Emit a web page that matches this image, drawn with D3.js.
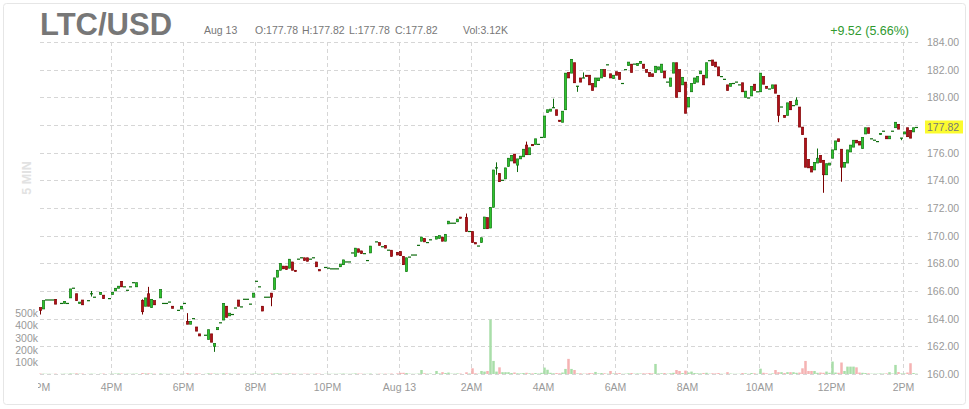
<!DOCTYPE html>
<html lang="en">
<head>
  <meta charset="UTF-8">
  <style>
    body {
      margin: 0;
      overflow: hidden;
      background: #fff;
    }

    svg {
      display: block;
      font-family: Arial, "Liberation Sans", sans-serif;
    }

    .grid line {
      stroke: #d6d6d6;
      stroke-dasharray: 4, 3;
      shape-rendering: crispEdges;
    }

    .axis path,
    .axis line {
      display: none;
    }

    .axis text {
      fill: #999;
      font-size: 10.5px;
    }
  </style>
  <script src="https://d3js.org/d3.v7.min.js"></script>
</head>
<body>

<svg id="chart"></svg>

<script>
  // 5 minute candles from Aug 12 2PM, [open, close], null = no trade
  const candles = [
    [164.8,164.6],[164.7,165.3],[165.35,165.35],[165.35,165.35],[165.35,165.35],[165.4,165.05],null,[165.1,165.1],[165.1,165.25],[165.1,165.1],[165.5,166.15],[166.2,166.2],
    [165.8,165.3],[165.1,165.2],[165.35,165.0],null,[165.3,165.3],[165.8,165.8],[165.55,165.55],null,[165.75,165.9],[165.7,165.45],null,[165.45,165.45],
    [165.75,165.9],[166.0,166.2],[166.2,166.35],[166.7,166.3],[166.3,166.3],[166.05,166.05],[166.3,166.3],[166.6,166.6],[166.3,166.6],null,[165.3,164.5],[164.9,165.5],
    [165.8,164.9],[164.8,165.4],[165.3,165.0],null,[165.5,166.1],[165.1,165.1],[165.1,165.1],[165.2,165.2],[164.9,164.75],null,[164.6,164.6],[164.7,164.9],
    [165.1,165.1],[163.8,163.6],[163.6,163.8],[164.0,164.0],[163.4,163.1],[162.9,162.75],null,[162.8,162.8],[162.5,163.2],[162.9,162.3],[162.0,162.2],[163.2,163.35],
    [163.7,163.7],[163.9,165.1],[164.9,164.1],[164.2,164.4],[164.3,164.3],[164.77,164.77],[165.35,164.9],[164.85,164.85],[165.4,165.4],[165.4,165.4],[165.05,165.05],[165.55,165.85],
    [166.7,166.7],[166.3,166.3],[164.9,164.55],[165.55,165.55],[165.55,165.55],[165.85,165.55],[166.1,166.95],[167.0,167.5],[167.5,168.0],[167.8,167.6],[167.8,167.55],[167.65,168.3],
    [168.1,167.5],[167.5,167.4],[168.3,168.3],[168.4,168.4],[168.4,168.2],[168.4,168.15],[168.3,168.3],[168.4,168.4],[168.1,167.75],[167.55,167.45],null,[167.7,167.7],
    [167.65,167.65],[167.6,167.6],[167.6,167.6],[167.6,167.6],[167.75,167.95],[167.9,168.25],[168.1,168.1],[168.1,168.1],[168.75,168.75],[168.5,169.1],[169.05,168.8],[168.9,168.7],
    [168.7,168.7],[168.2,168.2],[168.75,169.25],null,[169.55,169.55],[169.5,169.3],[169.2,169.2],[169.3,169.1],[168.95,168.95],[168.95,168.5],null,[168.8,168.6],
    [168.85,168.55],[168.5,167.9],[167.4,168.4],[168.45,168.45],[168.6,168.6],[168.6,168.6],[169.3,169.3],[169.6,169.9],[169.8,169.55],[169.5,169.5],[169.7,169.7],null,
    [169.75,169.95],[169.8,170.0],[169.9,169.6],[169.6,170.1],[170.85,171.05],[170.9,170.9],[170.9,170.9],[171.0,171.2],[171.35,171.25],null,[171.3,170.3],[170.3,170.3],
    [170.3,169.5],[169.5,169.4],[169.25,169.25],[169.5,169.85],[170.5,171.35],[171.3,170.5],[170.55,172.05],[172.05,174.75],[174.9,174.9],[174.5,173.9],[174.0,174.0],[174.1,174.9],
    [175.0,175.6],[175.4,175.8],[175.9,175.25],[175.1,175.55],[175.55,175.75],[175.7,176.25],[176.55,175.85],[175.85,176.35],[176.6,176.5],[176.6,177.0],[176.6,176.6],[177.1,177.1],
    [177.1,178.65],[178.9,179.1],[179.0,179.15],[179.25,179.25],[179.1,178.7],[178.35,178.25],[178.2,179.0],[179.1,181.75],[181.8,181.4],[181.75,182.75],[182.5,181.05],[180.8,180.8],
    [181.4,181.1],[181.4,181.4],[181.6,181.5],[181.6,180.9],[181.0,180.5],[180.75,181.4],[181.2,181.4],[181.4,182.0],[182.0,181.5],[182.35,182.35],[181.7,181.4],[181.35,181.6],
    [181.85,181.6],[181.8,181.3],[181.0,181.0],[182.0,182.0],[182.3,182.55],[182.4,181.8],[182.4,182.4],[182.3,182.45],[182.45,182.6],[182.4,182.1],[182.0,181.8],[181.8,181.5],
    [181.7,181.5],[181.8,182.25],[182.0,182.2],[181.8,182.4],[181.9,181.4],[181.1,181.1],[180.8,181.4],[181.75,182.5],[182.5,180.0],[182.0,180.4],[180.9,181.45],[181.1,178.85],
    [179.3,180.0],[180.4,181.0],[181.0,181.4],[181.1,181.5],[181.7,181.9],[181.6,180.9],[181.4,182.5],[182.65,182.65],[182.7,182.3],[182.55,182.2],[182.2,181.55],[181.5,181.5],
    [181.3,181.3],[180.9,180.5],[180.8,181.0],[181.0,181.0],[181.1,181.1],[180.9,180.9],[181.05,180.4],[180.0,180.45],[179.95,179.95],[180.1,180.8],[180.95,180.5],[180.4,180.4],
    [180.4,181.75],[181.5,180.95],[180.8,180.65],[180.6,180.6],[180.65,180.9],[180.9,180.3],[180.15,178.7],[179.3,179.3],[178.7,178.55],[178.7,179.6],[179.7,179.1],[179.4,179.4],
    [179.45,179.8],[179.3,177.85],[177.85,177.3],[177.05,174.95],[175.5,174.9],[175.0,174.6],[174.75,175.3],[175.25,175.6],[175.8,175.3],[175.45,174.4],[174.4,175.2],[175.1,175.25],
    [175.6,176.2],[176.2,176.85],[177.0,176.8],[176.25,174.95],[174.95,175.3],[175.25,176.2],[176.05,176.55],[176.4,176.9],[176.9,176.7],[176.8,176.55],[176.3,177.1],[177.35,177.8],
    [177.8,177.4],[177.0,177.0],[176.9,176.9],[176.8,176.8],[177.3,177.4],[177.55,177.55],[177.2,177.0],[177.0,177.2],[177.55,177.55],[177.8,178.2],[178.05,177.7],[177.05,177.05],
    [177.35,177.5],[177.8,177.15],[177.6,177.05],[177.5,177.8],[177.82,177.82]
  ];

  // shadows that reach past the body: [candle index, high, low]
  const wicks = [
    [0, 164.8, 164.3], [17, 166.0, 165.6], [34, 165.4, 164.3], [36, 166.3, 164.9],
    [49, 164.4, 163.6], [58, 162.2, 161.6], [77, 165.85, 164.9], [142, 171.6, 170.3],
    [152, 175.3, 174.4], [159, 175.55, 174.6], [162, 176.8, 175.85], [171, 179.9, 179.25],
    [179, 180.8, 180.4], [181, 181.8, 181.4], [246, 180.15, 178.2], [252, 180.0, 179.45],
    [259, 176.3, 175.25], [261, 175.45, 173.1], [267, 176.25, 173.9], [287, 177.05, 176.9]
  ];

  // volume per candle, thousands
  const volumes = [
    4,3,2,2,1,3,0,2,3,2,5,3,
    6,3,4,0,2,3,2,0,3,4,0,2,
    3,4,5,4,2,3,2,3,4,0,8,5,
    6,4,3,0,5,2,2,2,3,0,2,3,
    2,8,4,2,5,4,0,2,6,5,4,3,
    2,6,5,3,2,2,4,2,2,2,2,4,
    3,2,5,2,2,4,5,6,4,3,3,5,
    4,3,2,2,3,3,2,2,4,3,0,2,
    2,2,2,2,3,4,2,2,3,5,4,3,
    2,2,4,0,2,3,2,3,2,4,0,5,
    10,10,8,3,2,2,4,33,6,3,4,0,
    25,5,15,8,12,3,3,5,4,0,14,4,
    47,6,3,25,20,25,450,108,20,55,15,15,
    15,8,12,6,5,8,10,6,5,8,4,10,
    53,35,10,6,8,6,12,42,125,42,33,5,
    6,3,4,8,6,17,5,8,6,3,25,5,
    6,8,2,3,6,8,3,5,4,6,5,8,
    5,83,5,6,8,3,6,10,33,25,8,28,
    12,20,8,6,5,8,10,3,6,5,8,2,
    2,15,4,2,2,2,8,6,2,8,6,2,
    44,10,6,2,5,33,15,15,8,15,15,15,
    10,12,47,108,25,25,25,10,12,10,20,10,
    103,12,10,95,25,61,61,61,55,12,10,8,
    6,3,3,3,5,4,5,15,4,75,16,5,
    5,12,89,8,3
  ];

  const priceTicks = [160, 162, 164, 166, 168, 170, 172, 174, 176, 178, 180, 182, 184];
  const volumeTicks = [100, 200, 300, 400, 500];
  const symbol = "LTC/USD";
  const lastPrice = 177.82;
  const headerInfo = ["Aug 13", "O:177.78", "H:177.82", "L:177.78", "C:177.82", "Vol:3.12K"];
  const change = "+9.52 (5.66%)";

  const width = 969, height = 409;
  const plotLeft = 40, plotRight = 918, plotTop = 42, plotBottom = 374;

  const svg = d3.select("#chart")
    .attr("width", width)
    .attr("height", height);

  // frame
  svg.append("rect")
    .attr("x", 3.5).attr("y", 3.5)
    .attr("width", 962).attr("height", 401)
    .attr("rx", 3)
    .attr("fill", "#fff")
    .attr("stroke", "#e6e6e6");

  const start = new Date(2018, 7, 12, 14, 0);
  const end = new Date(2018, 7, 13, 14, 0);
  const x = d3.scaleTime().domain([start, end]).range([39, 903]);
  const y = d3.scaleLinear().domain([160, 184]).range([plotBottom, plotTop]);
  const yVol = d3.scaleLinear().domain([0, 500]).range([plotBottom, plotBottom - 60.5]);

  const candleTime = i => new Date(start.getTime() + i * 5 * 60000);
  const cx = i => x(candleTime(i)) + 1.5;

  const hourTicks = d3.range(0, 13).map(k => new Date(start.getTime() + k * 2 * 3600000));

  // grid
  const grid = svg.append("g").attr("class", "grid");
  grid.selectAll(".h").data(priceTicks).join("line")
    .attr("x1", plotLeft).attr("x2", plotRight)
    .attr("y1", d => Math.round(y(d)) + 0.5)
    .attr("y2", d => Math.round(y(d)) + 0.5);
  grid.selectAll(".v").data(hourTicks.filter(t => x(t) > plotLeft)).join("line")
    .attr("x1", d => Math.round(x(d)) + 0.5)
    .attr("x2", d => Math.round(x(d)) + 0.5)
    .attr("y1", plotTop).attr("y2", plotBottom);

  // price axis, the label under the last price marker is left out
  const labelled = priceTicks.filter(p => Math.abs(y(p) - y(lastPrice)) > 10);
  svg.append("g")
    .attr("class", "axis")
    .attr("transform", `translate(${plotRight},0)`)
    .call(d3.axisRight(y).tickValues(labelled).tickFormat(d3.format(".2f")).tickSize(0).tickPadding(9));

  // last price marker
  const lp = svg.append("g").attr("transform", `translate(0,${y(lastPrice)})`);
  lp.append("rect")
    .attr("x", 925).attr("y", -7)
    .attr("width", 38).attr("height", 13)
    .attr("fill", "#fbfb2e");
  lp.append("text")
    .attr("x", 927).attr("y", 0).attr("dy", "0.35em")
    .attr("fill", "#777")
    .attr("font-size", "10.5px")
    .text(d3.format(".2f")(lastPrice));

  // time axis, first label is cut by the plot edge
  svg.append("clipPath").attr("id", "xclip")
    .append("rect").attr("x", 38).attr("y", -5).attr("width", 900).attr("height", 35);
  const timeFmt = d => d.getHours() === 0 ? d3.timeFormat("%b %-d")(d) : d3.timeFormat("%-I%p")(d);
  svg.append("g")
    .attr("class", "axis")
    .attr("clip-path", "url(#xclip)")
    .attr("transform", `translate(0,${plotBottom})`)
    .call(d3.axisBottom(x).tickValues(hourTicks).tickFormat(timeFmt).tickSize(0).tickPadding(10));

  // volume axis
  svg.append("g")
    .attr("class", "axis")
    .attr("transform", `translate(${plotLeft - 2},0)`)
    .call(d3.axisLeft(yVol).tickValues(volumeTicks).tickFormat(d => d + "k").tickSize(0).tickPadding(0));

  // volume bars
  const rows = candles.map((c, i) => c && { i, o: c[0], c: c[1], v: volumes[i] }).filter(Boolean);
  svg.append("g").selectAll("rect").data(rows.filter(d => d.v > 0)).join("rect")
    .attr("x", d => cx(d.i) - 1.25)
    .attr("width", 2.5)
    .attr("y", d => yVol(d.v))
    .attr("height", d => plotBottom - yVol(d.v))
    .attr("fill", d => d.c < d.o ? "#f5b3b3" : "#a9dea9");

  // candles
  const wickMap = new Map(wicks.map(w => [w[0], w]));
  rows.forEach(d => {
    const w = wickMap.get(d.i);
    d.h = w ? w[1] : Math.max(d.o, d.c);
    d.l = w ? w[2] : Math.min(d.o, d.c);
    d.down = d.c < d.o;
  });

  const g = svg.append("g");
  g.selectAll(".wick").data(rows.filter(d => d.h > d.l)).join("line")
    .attr("x1", d => cx(d.i)).attr("x2", d => cx(d.i))
    .attr("y1", d => y(d.h)).attr("y2", d => y(d.l))
    .attr("stroke", d => d.down ? "#7a0000" : "#0d6b0d")
    .attr("stroke-width", 1);

  g.selectAll(".doji").data(rows.filter(d => d.o === d.c)).join("line")
    .attr("x1", d => cx(d.i) - 1.5).attr("x2", d => cx(d.i) + 1.5)
    .attr("y1", d => y(d.c)).attr("y2", d => y(d.c))
    .attr("stroke", "#0d6b0d")
    .attr("stroke-width", 1.2);

  g.selectAll(".body").data(rows.filter(d => d.o !== d.c)).join("rect")
    .attr("x", d => cx(d.i) - 1.2)
    .attr("width", 2.4)
    .attr("y", d => y(Math.max(d.o, d.c)))
    .attr("height", d => Math.max(1, Math.abs(y(d.o) - y(d.c))))
    .attr("fill", d => d.down ? "#b0101a" : "#2ec42e")
    .attr("stroke", d => d.down ? "#7a0000" : "#0d6b0d")
    .attr("stroke-width", 0.6);

  // header
  svg.append("text")
    .attr("x", 40).attr("y", 35)
    .attr("font-size", "31px")
    .attr("font-weight", "bold")
    .attr("fill", "#777")
    .text(symbol);

  const infoX = [204, 255, 302, 349, 395, 463];
  svg.append("g").selectAll("text").data(headerInfo).join("text")
    .attr("x", (d, i) => infoX[i]).attr("y", 34)
    .attr("font-size", "10.5px")
    .attr("fill", "#777")
    .text(d => d);

  svg.append("text")
    .attr("x", 909).attr("y", 35)
    .attr("text-anchor", "end")
    .attr("font-size", "12.5px")
    .attr("fill", "#2f9a2f")
    .text(change);

  // interval label
  svg.append("text")
    .attr("transform", "translate(31,178) rotate(-90)")
    .attr("text-anchor", "middle")
    .attr("font-size", "12.5px")
    .attr("font-weight", "bold")
    .attr("fill", "#e2e2e2")
    .text("5 MIN");
</script>

</body>
</html>
